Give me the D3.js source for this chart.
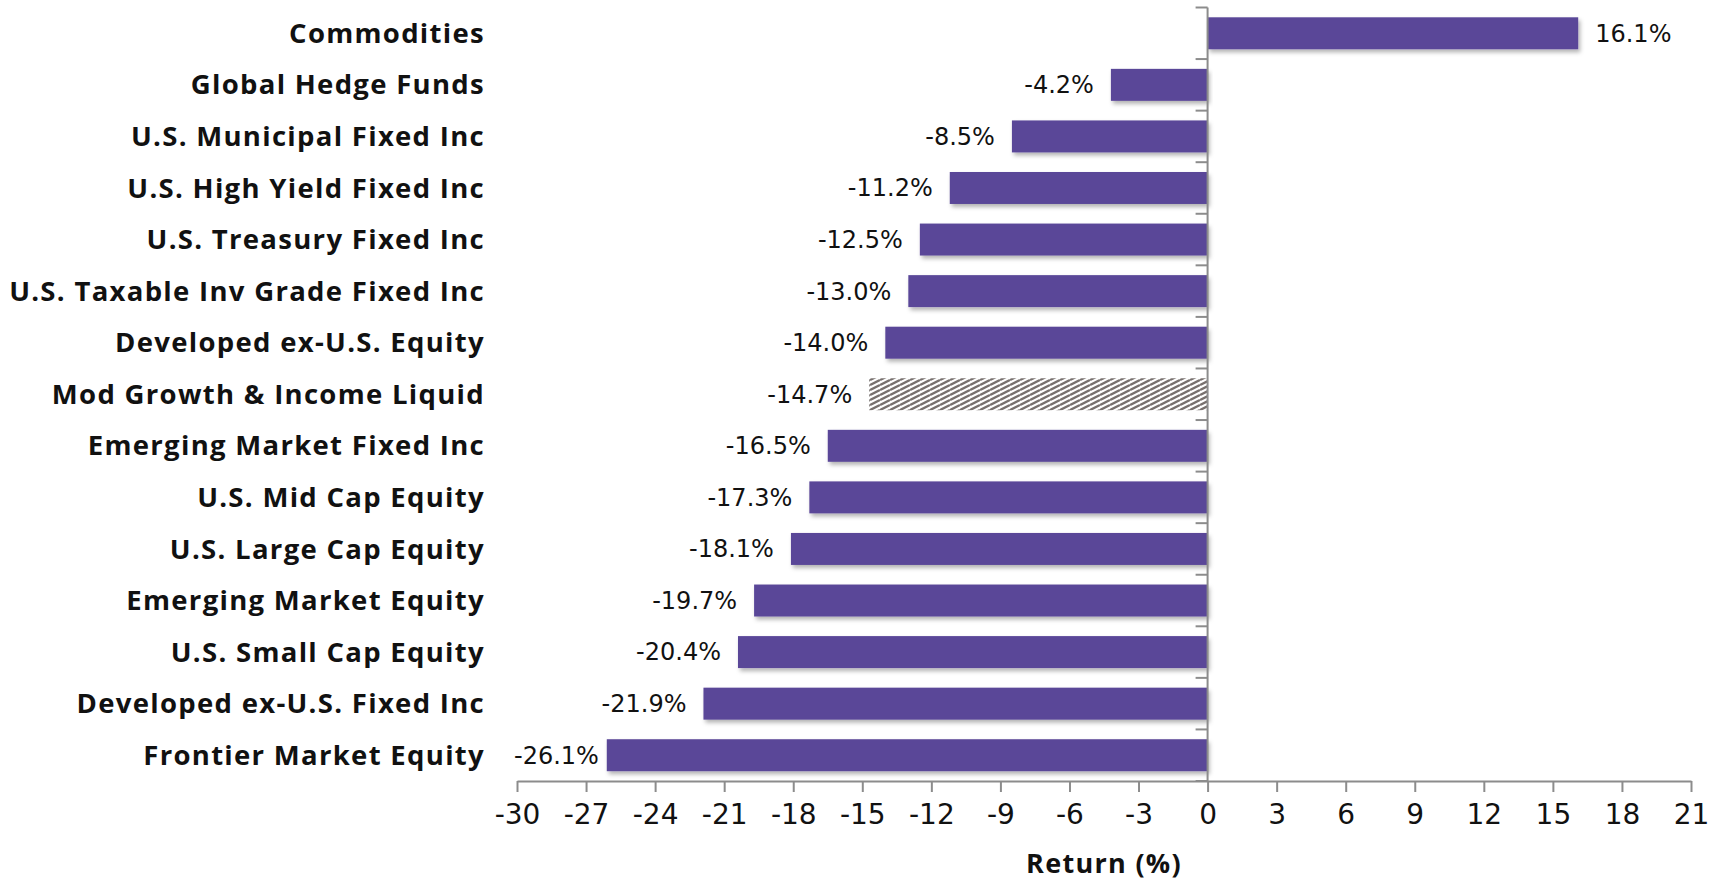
<!DOCTYPE html>
<html>
<head>
<meta charset="utf-8">
<script src="https://cdn.jsdelivr.net/npm/d3@7"></script>
<style>
  html, body { margin: 0; padding: 0; background: #fff; }
  svg { display: block; }
</style>
</head>
<body>
<svg id="chart" width="1725" height="881"></svg>
<script>
// Asset class returns, top to bottom
const categories = [
  "Commodities",
  "Global Hedge Funds",
  "U.S. Municipal Fixed Inc",
  "U.S. High Yield Fixed Inc",
  "U.S. Treasury Fixed Inc",
  "U.S. Taxable Inv Grade Fixed Inc",
  "Developed ex-U.S. Equity",
  "Mod Growth & Income Liquid",
  "Emerging Market Fixed Inc",
  "U.S. Mid Cap Equity",
  "U.S. Large Cap Equity",
  "Emerging Market Equity",
  "U.S. Small Cap Equity",
  "Developed ex-U.S. Fixed Inc",
  "Frontier Market Equity"
];
const returns = [16.1, -4.2, -8.5, -11.2, -12.5, -13.0, -14.0, -14.7, -16.5, -17.3, -18.1, -19.7, -20.4, -21.9, -26.1];
// Portfolio benchmark drawn with a hatched fill
const benchmark = "Mod Growth & Income Liquid";
const xTicks = [-30, -27, -24, -21, -18, -15, -12, -9, -6, -3, 0, 3, 6, 9, 12, 15, 18, 21];
const axisTitle = "Return (%)";

const purple = "#5a4798";
const axisGray = "#8c8c8c";

const svg = d3.select("#chart");
const plot = { left: 517, right: 1691, top: 7.5, bottom: 781 };

const x = d3.scaleLinear().domain([-30, 21]).range([plot.left, plot.right]);
const y = d3.scaleBand().domain(categories).range([plot.top, plot.bottom])
  .paddingInner(0.38).paddingOuter(0.19);

const defs = svg.append("defs");
const hatch = defs.append("pattern")
  .attr("id", "hatch").attr("patternUnits", "userSpaceOnUse")
  .attr("width", 10).attr("height", 5);
hatch.append("rect").attr("width", 10).attr("height", 5).attr("fill", "#fff");
hatch.append("path").attr("d", "M0,0 L10,-5 M0,5 L10,0 M0,10 L10,5")
  .attr("stroke", "#78716f").attr("stroke-width", 2.4);

const shadow = defs.append("filter").attr("id", "shadow")
  .attr("x", "-5%").attr("y", "-30%").attr("width", "110%").attr("height", "170%");
shadow.append("feDropShadow").attr("dx", 2).attr("dy", 3).attr("stdDeviation", 2)
  .attr("flood-color", "#000").attr("flood-opacity", 0.3);

// Bars
svg.append("g").selectAll("rect")
  .data(categories)
  .join("rect")
  .attr("x", (d, i) => x(Math.min(0, returns[i])))
  .attr("y", d => y(d))
  .attr("width", (d, i) => Math.abs(x(returns[i]) - x(0)))
  .attr("height", y.bandwidth())
  .attr("fill", d => d === benchmark ? "url(#hatch)" : purple)
  .attr("filter", d => d === benchmark ? null : "url(#shadow)");

// Value labels
const labels = svg.append("g")
  .attr("font-family", "DejaVu Sans, sans-serif")
  .attr("font-size", 24)
  .attr("fill", "#111");
categories.forEach((c, i) => {
  const v = returns[i];
  const t = labels.append("text")
    .attr("y", y(c) + y.bandwidth() / 2)
    .attr("dy", "0.35em")
    .text(v.toFixed(1) + "%");
  if (v >= 0) {
    t.attr("x", x(v) + 17).attr("text-anchor", "start");
  } else {
    const w = t.node().getComputedTextLength();
    t.attr("x", Math.max(x(v) - 17, plot.left - 3 + w)).attr("text-anchor", "end");
  }
});

// Category labels
svg.append("g")
  .attr("font-family", "Open Sans, sans-serif")
  .attr("font-weight", "bold")
  .attr("font-size", 27.5)
  .attr("letter-spacing", 1.3)
  .attr("fill", "#111")
  .selectAll("text")
  .data(categories)
  .join("text")
  .attr("x", 485)
  .attr("y", d => y(d) + y.bandwidth() / 2)
  .attr("dy", "0.35em")
  .attr("text-anchor", "end")
  .text(d => d);

// Vertical zero axis with ticks at category boundaries
const yAxisG = svg.append("g").attr("stroke", axisGray).attr("stroke-width", 2);
yAxisG.append("line")
  .attr("x1", x(0)).attr("x2", x(0))
  .attr("y1", plot.top).attr("y2", plot.bottom);
const bounds = categories.map(c => y(c) - y.step() * y.paddingInner() / 2).concat([plot.bottom]);
yAxisG.selectAll("line.tick")
  .data(bounds)
  .join("line")
  .attr("class", "tick")
  .attr("x1", x(0) - 12).attr("x2", x(0))
  .attr("y1", d => d).attr("y2", d => d);

// Bottom value axis
const xAxis = d3.axisBottom(x)
  .tickValues(xTicks)
  .tickSize(11)
  .tickSizeOuter(0)
  .tickPadding(12)
  .tickFormat(d => String(d));
const xg = svg.append("g")
  .attr("transform", `translate(0,${plot.bottom})`)
  .call(xAxis);
xg.select(".domain").attr("stroke", axisGray).attr("stroke-width", 2);
xg.selectAll(".tick line").attr("stroke", axisGray).attr("stroke-width", 2);
xg.selectAll(".tick text")
  .attr("font-family", "DejaVu Sans, sans-serif")
  .attr("font-size", 28)
  .attr("fill", "#111");

// Axis title
svg.append("text")
  .attr("x", (plot.left + plot.right) / 2)
  .attr("y", 864)
  .attr("dy", "0.35em")
  .attr("text-anchor", "middle")
  .attr("font-family", "Open Sans, sans-serif")
  .attr("font-weight", "bold")
  .attr("font-size", 27)
  .attr("letter-spacing", 1.3)
  .attr("fill", "#111")
  .text(axisTitle);
</script>
</body>
</html>
